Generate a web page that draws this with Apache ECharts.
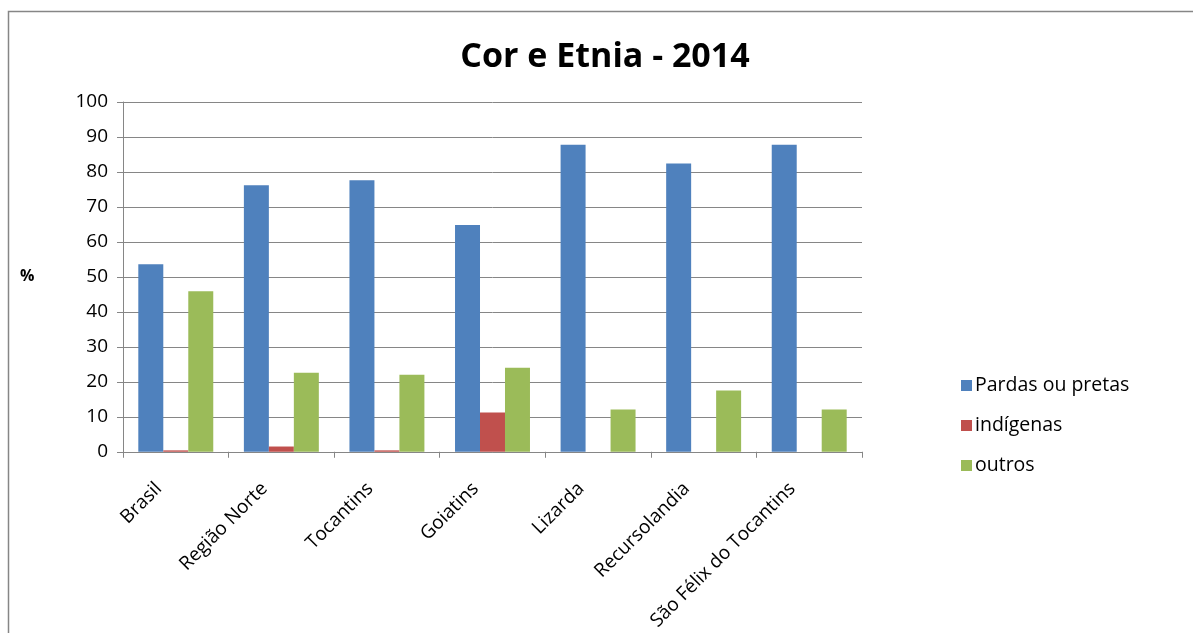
<!DOCTYPE html>
<html>
<head>
<meta charset="utf-8">
<script src="https://cdn.jsdelivr.net/npm/echarts@6/dist/echarts.min.js"></script>
<style>
  html, body { margin: 0; padding: 0; background: #fff; }
  #chart { width: 1193px; height: 633px; }
</style>
</head>
<body>
<div id="chart"></div>
<script>
// Categories (localidades)
const categories = ['Brasil', 'Região Norte', 'Tocantins', 'Goiatins', 'Lizarda', 'Recursolandia', 'São Félix do Tocantins'];
// Percentual da população por cor/etnia
const pardasOuPretas = [53.6, 76.2, 77.6, 64.8, 87.8, 82.4, 87.8];
const indigenas = [0.4, 1.5, 0.4, 11.2, 0, 0, 0];
const outros = [45.9, 22.6, 22.0, 24.0, 12.1, 17.5, 12.1];
// Eixo Y
const yTicks = [0, 10, 20, 30, 40, 50, 60, 70, 80, 90, 100];

const FONT = '"Open Sans", "Noto Sans", sans-serif';
const chart = echarts.init(document.getElementById('chart'), null, { renderer: 'canvas' });

const barSeries = (name, data, color) => ({
  name, type: 'bar', data,
  barGap: '0%', barCategoryGap: '29%',
  itemStyle: { color },
  emphasis: { disabled: true }
});

chart.setOption({
  animation: false,
  backgroundColor: '#ffffff',
  title: {
    text: 'Cor e Etnia - 2014',
    left: 600, top: 35, textAlign: 'center',
    textStyle: { fontFamily: FONT, fontWeight: 'bold', fontSize: 34, color: '#000' }
  },
  legend: {
    orient: 'vertical',
    left: 956, top: 370,
    itemWidth: 11, itemHeight: 11, itemGap: 19,
    icon: 'rect',
    textStyle: { fontFamily: FONT, fontSize: 19.5, lineHeight: 21, color: '#000', padding: [0, 0, 0, -2] },
    data: ['Pardas ou pretas', 'indígenas', 'outros']
  },
  grid: { left: 123, right: 331, top: 102, bottom: 179, containLabel: false },
  xAxis: {
    type: 'category',
    data: categories,
    axisLine: { lineStyle: { color: '#868686', width: 1 } },
    axisTick: { show: true, alignWithLabel: false, length: 6, lineStyle: { color: '#868686' } },
    axisLabel: {
      rotate: 45, interval: 0, margin: 17,
      padding: [0, 24, 0, 0],
      fontFamily: FONT, fontSize: 19, color: '#000'
    }
  },
  yAxis: {
    type: 'value',
    min: yTicks[0], max: yTicks[yTicks.length - 1], interval: 10,
    axisLine: { show: true, lineStyle: { color: '#868686' } },
    axisTick: { show: true, length: 6, lineStyle: { color: '#868686' } },
    axisLabel: { margin: 15, fontFamily: FONT, fontSize: 19, color: '#000' },
    splitLine: { show: true, lineStyle: { color: '#868686', width: 1 } }
  },
  graphic: [
    {
      type: 'polyline',
      shape: { points: [[1200, 11.5], [8.5, 11.5], [8.5, 640]] },
      style: { stroke: '#868686', lineWidth: 1.5, fill: null },
      silent: true
    },
    {
      type: 'text', left: 20, top: 268,
      style: { text: '%', fontFamily: FONT, fontWeight: 'bold', fontSize: 16, fill: '#000' }
    }
  ],
  series: [
    barSeries('Pardas ou pretas', pardasOuPretas, '#4f81bd'),
    barSeries('indígenas', indigenas, '#c0504d'),
    barSeries('outros', outros, '#9bbb59')
  ]
});
</script>
</body>
</html>
